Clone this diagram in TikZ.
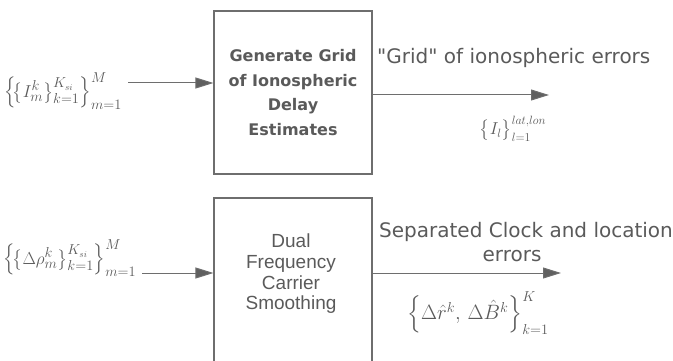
\documentclass[tikz,border=0pt]{standalone}
\usepackage{amsmath}
\usepackage{fontspec}
\usetikzlibrary{arrows.meta}
\newfontfamily\djsans{DejaVu Sans}
\newfontfamily\libsans{Liberation Sans}
\definecolor{ink}{HTML}{5A5A5A}
\definecolor{wire}{HTML}{6E6E6E}
\definecolor{headc}{HTML}{606060}
\begin{document}
\begin{tikzpicture}[x=1pt,y=-1pt,
  box/.style={draw=wire, line width=1.2pt, minimum width=158pt, inner sep=0pt},
  flow/.style={draw=wire, line width=1pt, -{Triangle[length=18pt,width=11pt,fill=headc]}},
  boldtxt/.style={text=ink, align=center, font=\djsans\bfseries\fontsize{16}{24.5}\selectfont},
  plaintxt/.style={text=ink, align=center, font=\libsans\fontsize{19}{20.7}\selectfont},
  outtxt/.style={text=ink, inner sep=0pt, font=\djsans\fontsize{20}{24}\selectfont},
  mathtxt/.style={text=ink, inner sep=0pt, font=\fontsize{19}{21}\selectfont}]
\useasboundingbox (0,0) rectangle (673,361);
\clip (0,0) rectangle (673,361);
% boxes
\node[box, minimum height=163pt, boldtxt] (gridbox) at (293,92.5)
  {Generate Grid\\of Ionospheric\\Delay\\Estimates};
\node[box, minimum height=192pt] (smbox) at (293,294) {};
\node[plaintxt] (smtxt) at (291,274) {Dual\\Frequency\\Carrier\\Smoothing};
% input labels
\node[mathtxt] (inA) at (63,91)
  {$\Bigl\{\!\bigl\{ I_m^{k} \bigr\}_{k=1}^{K_{si}} \Bigr\}_{m=1}^{M}$};
\node[mathtxt] (inB) at (70,258)
  {$\Bigl\{\!\bigl\{ \Delta\rho_m^{k} \bigr\}_{k=1}^{K_{si}} \Bigr\}_{m=1}^{M}$};
% output labels
\node[outtxt, anchor=base west] (gridlbl) at (377,64) {"Grid" of ionospheric errors};
\node[outtxt, anchor=base west] (seplbl) at (379,237) {Separated Clock and location};
\node[outtxt, anchor=base] (seplbl2) at (512,261) {errors};
\node[mathtxt, font=\fontsize{18}{20}\selectfont] (outA) at (513,129) {$\bigl\{ I_l \bigr\}_{l=1}^{lat,lon}$};
\node[mathtxt, font=\fontsize{20}{22}\selectfont] (outB) at (478,313)
  {$\Bigl\{ \Delta\hat{r}^{k},\, \Delta\hat{B}^{k} \Bigr\}_{k=1}^{K}$};
% connectors
\coordinate (a1) at (128,83);
\coordinate (b1) at (142,273);
\coordinate (a2) at (549,95);
\coordinate (b2) at (561,273);
\draw[flow] (a1) -- (a1 -| gridbox.west);
\draw[flow] (b1) -- (b1 -| smbox.west);
\draw[flow] (a2 -| gridbox.east) -- (a2);
\draw[flow] (b2 -| smbox.east) -- (b2);
\end{tikzpicture}
\end{document}
